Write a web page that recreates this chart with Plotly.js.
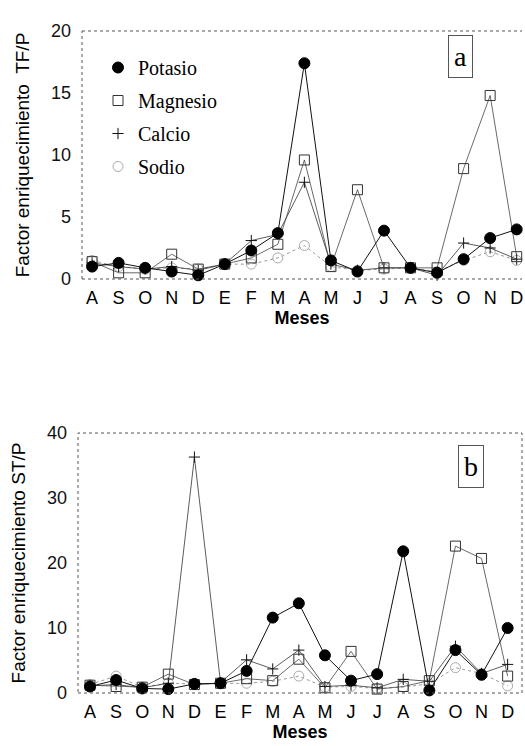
<!DOCTYPE html>
<html><head><meta charset="utf-8">
<script src="https://cdn.plot.ly/plotly-3.0.1.min.js"></script>
<style>html,body{margin:0;padding:0;background:#fff}#c{width:525px;height:746px}</style>
</head><body><div id="c"></div>
<script>
const months = ['A','S','O','N','D','E','F','M','A','M','J','J','A','S','O','N','D'];

// Panel a: TF/P
const potasioTF  = [1.0, 1.3, 0.9, 0.6, 0.3, 1.2, 2.3, 3.7, 17.4, 1.5, 0.6, 3.9, 0.9, 0.5, 1.6, 3.3, 4.0];
const magnesioTF = [1.4, 0.5, 0.5, 2.0, 0.8, 1.2, 1.7, 2.8, 9.6, 1.0, 7.2, 0.9, 0.9, 0.9, 8.9, 14.8, 1.8];
const calcioTF   = [1.3, 1.0, 0.8, 1.0, 0.7, 1.2, 3.1, 3.6, 7.8, 1.2, 0.7, 0.9, 0.9, 0.3, 2.9, 2.5, 1.6];
const sodioTF    = [1.5, 1.0, 0.8, 0.9, 0.8, 1.2, 1.2, 1.7, 2.7, 1.0, 0.7, 0.8, 0.9, 0.6, 1.5, 2.2, 1.5];

// Panel b: ST/P
const potasioST  = [1.0, 2.0, 0.7, 0.6, 1.4, 1.5, 3.4, 11.6, 13.8, 5.8, 1.9, 2.9, 21.8, 0.4, 6.6, 2.8, 10.0];
const magnesioST = [1.2, 1.0, 0.9, 2.9, 1.3, 1.5, 2.2, 1.9, 5.2, 0.8, 6.4, 0.6, 1.0, 1.9, 22.6, 20.7, 2.6];
const calcioST   = [1.1, 1.3, 0.8, 1.5, 36.3, 1.6, 5.1, 3.7, 6.6, 1.0, 1.2, 0.8, 2.1, 1.8, 7.2, 3.0, 4.4];
const sodioST    = [1.3, 2.6, 0.9, 1.5, 1.4, 1.5, 1.5, 1.8, 2.6, 0.9, 1.0, 0.7, 0.9, 1.4, 3.9, 3.0, 1.1];

const seriesNames = ['Potasio','Magnesio','Calcio','Sodio'];

const xIdx = months.map((m, i) => i);

const styles = {
  Potasio:  {line:{color:'#111', width:1}, marker:{symbol:'circle', size:11, color:'#000', line:{color:'#000', width:1}}},
  Magnesio: {line:{color:'#444', width:0.8}, marker:{symbol:'square-open', size:10, color:'#333', line:{width:1}}},
  Calcio:   {line:{color:'#333', width:0.8}, marker:{symbol:'cross-thin-open', size:8, color:'#111', line:{color:'#111', width:1}}},
  Sodio:    {line:{color:'#999', width:1, dash:'dot'}, marker:{symbol:'circle-open', size:10, color:'#aaa', line:{width:1}}}
};

function mk(name, ys, xa, ya) {
  const s = styles[name];
  return {x: xIdx, y: ys, xaxis: xa, yaxis: ya, type:'scatter', mode:'lines+markers',
          name: name, showlegend:false, line: s.line, marker: s.marker, cliponaxis:false};
}

const dataA = {Potasio: potasioTF, Magnesio: magnesioTF, Calcio: calcioTF, Sodio: sodioTF};
const dataB = {Potasio: potasioST, Magnesio: magnesioST, Calcio: calcioST, Sodio: sodioST};
const drawOrder = ['Sodio','Calcio','Magnesio','Potasio'];

const traces = [];
drawOrder.forEach(n => traces.push(mk(n, dataA[n], 'x', 'y')));
drawOrder.forEach(n => traces.push(mk(n, dataB[n], 'x2', 'y2')));
seriesNames.forEach((n, i) => traces.push({
  x:[null], y:[null], xaxis:'x', yaxis:'y', type:'scatter', mode:'markers',
  name:n, legendgroup:'g'+i, showlegend:true, marker: styles[n].marker
}));

const W = 525, H = 746;
const tickFont = {family:'Liberation Sans, Arial, sans-serif', size:18, color:'#000'};
const titleFont = {family:'Liberation Sans, Arial, sans-serif', size:19, color:'#000'};

function xaxis(domain, range) {
  return {domain: domain, range: range, tickmode:'array', tickvals: xIdx, ticktext: months,
          showgrid:false, zeroline:false, showline:false, ticks:'', tickfont: tickFont,
          ticklabelstandoff: 6,
          title:{text:'<b>Meses</b>', font:{family:'Liberation Sans, Arial, sans-serif', size:18, color:'#000'}, standoff: 2}};
}
function yaxis(domain, range, dtick, title) {
  return {domain: domain, range: range, dtick: dtick, tick0:0, showgrid:false, zeroline:false, showline:false,
          ticks:'', tickfont: {family:'Liberation Sans, Arial, sans-serif', size:18, color:'#111'},
          ticklabelstandoff: 10,
          title:{text:title, font: titleFont, standoff: 16}};
}

const axA = {x0: 82, x1: 522, y0: 31, y1: 279};
const axB = {x0: 78, x1: 522, y0: 433, y1: 693};

function dom(ax) {
  return {x:[ax.x0/W, ax.x1/W], y:[(H-ax.y1)/H, (H-ax.y0)/H]};
}
const dA = dom(axA), dB = dom(axB);

const border = {color:'#555', width:1, dash:'dot'};
const shapes = [
  {type:'line', xref:'x domain', yref:'y domain', x0:0, x1:0, y0:0, y1:1, line:border},
  {type:'line', xref:'x domain', yref:'y domain', x0:0, x1:1, y0:1, y1:1, line:border},
  {type:'line', xref:'x domain', yref:'y domain', x0:0, x1:1, y0:0, y1:0, line:border},
  {type:'rect', xref:'x2 domain', yref:'y2 domain', x0:0, x1:1, y0:0, y1:1, line:border}
];

const layout = {
  width: W, height: H,
  margin:{l:0, r:0, t:0, b:0},
  paper_bgcolor:'#fff', plot_bgcolor:'rgba(0,0,0,0)',
  xaxis: xaxis(dA.x, [-0.38, 16.2]),
  yaxis: Object.assign(yaxis(dA.y, [0, 20], 5, 'Factor enriquecimiento  TF/P'), {anchor:'x'}),
  xaxis2: Object.assign(xaxis(dB.x, [-0.46, 16.55]), {anchor:'y2'}),
  yaxis2: Object.assign(yaxis(dB.y, [0, 40], 10, 'Factor enriquecimiento ST/P'), {anchor:'x2'}),
  showlegend: true,
  legend: {x: 98/W, y: 1 - 48/H, xanchor:'left', yanchor:'top', bgcolor:'rgba(0,0,0,0)',
           font:{family:'Liberation Serif, Times New Roman, serif', size:20, color:'#000'},
           tracegroupgap: 4, itemwidth: 30},
  shapes: shapes,
  annotations: [
    {text:'a', xref:'paper', yref:'paper', x: 460/W, y: 1 - 56/H, showarrow:false,
     font:{family:'Liberation Serif, Times New Roman, serif', size:28, color:'#000'},
     bordercolor:'#555', borderwidth:1, borderpad:5, xanchor:'center', yanchor:'middle'},
    {text:'b', xref:'paper', yref:'paper', x: 471/W, y: 1 - 466/H, showarrow:false,
     font:{family:'Liberation Serif, Times New Roman, serif', size:28, color:'#000'},
     bordercolor:'#555', borderwidth:1, borderpad:5, xanchor:'center', yanchor:'middle'}
  ]
};

Plotly.newPlot('c', traces, layout, {staticPlot:true});
</script>
</body></html>
